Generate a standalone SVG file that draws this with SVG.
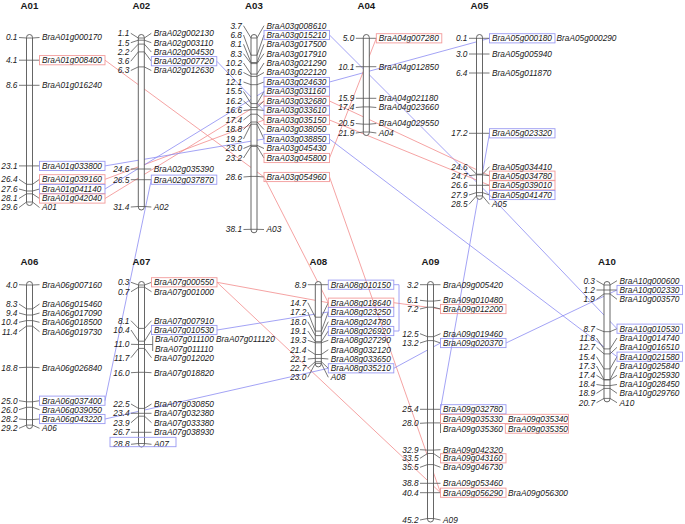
<svg xmlns="http://www.w3.org/2000/svg" width="685" height="524" viewBox="0 0 685 524">
<style>
text{font-family:"Liberation Sans",Arial,sans-serif;fill:#1a1a1a}
.t{font-size:9.7px;font-weight:bold;text-anchor:middle}
.n{font-size:8.3px;font-style:italic;text-anchor:end}
.g{font-size:8.3px;font-style:italic}
.bar{fill:#fff;stroke:#555;stroke-width:0.9}
polyline.k,line.k{fill:none;stroke:#555;stroke-width:0.8}
.rb{fill:none;stroke:#f29a9a;stroke-width:0.9}
.bb{fill:none;stroke:#9a9af2;stroke-width:0.9}
#links line.r,#links polyline.r{stroke:#f28c8c;stroke-width:0.8;fill:none}
#links line.b,#links polyline.b{stroke:#8c8cf2;stroke-width:0.8;fill:none}
</style>
<rect width="685" height="524" fill="#fff"/>

<g id="links">
<line class="r" x1="105" y1="60.2" x2="264" y2="177"/>
<line class="r" x1="105" y1="179.3" x2="264" y2="120"/>
<line class="r" x1="105" y1="198.5" x2="264" y2="101"/>
<line class="b" x1="105" y1="165.9" x2="264" y2="139"/>
<line class="b" x1="105" y1="189" x2="264" y2="91.5"/>
<line class="b" x1="216.8" y1="61.2" x2="264" y2="110.5"/>
<line class="b" x1="329.5" y1="35" x2="489.5" y2="195"/>
<line class="b" x1="329.5" y1="82" x2="489.5" y2="38.3"/>
<line class="r" x1="329.5" y1="101" x2="489.5" y2="175.7"/>
<line class="r" x1="329.5" y1="120" x2="489.5" y2="185.3"/>
<line class="r" x1="376.3" y1="38.3" x2="329.5" y2="158"/>
<line class="b" x1="329.5" y1="139" x2="617" y2="356.7"/>
<line class="b" x1="489.5" y1="195" x2="617" y2="328.7"/>
<line class="b" x1="489.5" y1="133.3" x2="440.5" y2="409.3"/>
<line class="b" x1="151.3" y1="179.7" x2="105" y2="400.7"/>
<line class="r" x1="217" y1="282.3" x2="328.3" y2="302.7"/>
<line class="r" x1="393.8" y1="302.7" x2="440.5" y2="309"/>
<line class="r" x1="217" y1="282.3" x2="440.5" y2="492.7"/>
<line class="r" x1="264" y1="177" x2="328.3" y2="302.7"/>
<line class="r" x1="329.5" y1="177" x2="440.5" y2="492.7"/>
<line class="b" x1="217" y1="330" x2="328.3" y2="312"/>
<line class="b" x1="105" y1="419" x2="328.3" y2="368.3"/>
<line class="b" x1="393.8" y1="368.3" x2="440.5" y2="343"/>
<line class="b" x1="506" y1="343" x2="617" y2="290"/>
<polyline class="b" points="393.8,284.7 399,284.7 399,331 393.8,331"/>
</g>

<g id="A01">
<text class="t" x="29.5" y="8.6">A01</text>
<rect class="bar" x="26.5" y="34.5" width="6" height="171" rx="3"/>
<text class="n" x="17.5" y="40.4">0.1</text><polyline class="k" points="19,37.5 26.5,38 32.5,38 39.5,37.5"/><text class="g" x="42" y="40.4">BraA01g000170</text>
<text class="n" x="17.5" y="63.1">4.1</text><polyline class="k" points="19,60.2 39.5,60.2"/><text class="g" x="42" y="63.1">BraA01g008400</text><rect class="rb" x="39.5" y="55.6" width="65.5" height="9.2"/>
<text class="n" x="17.5" y="88.2">8.6</text><polyline class="k" points="19,85.3 39.5,85.3"/><text class="g" x="42" y="88.2">BraA01g016240</text>
<text class="n" x="17.5" y="168.8">23.1</text><polyline class="k" points="19,165.9 39.5,165.9"/><text class="g" x="42" y="168.8">BraA01g033800</text><rect class="bb" x="39.5" y="161.3" width="65.5" height="9.2"/>
<text class="n" x="17.5" y="182.2">26.4</text><polyline class="k" points="19,179.3 26.5,184.3 32.5,184.3 39.5,179.3"/><text class="g" x="42" y="182.2">BraA01g039160</text><rect class="rb" x="39.5" y="174.7" width="65.5" height="9.2"/>
<text class="n" x="17.5" y="191.9">27.6</text><polyline class="k" points="19,189 26.5,191 32.5,191 39.5,189"/><text class="g" x="42" y="191.9">BraA01g041140</text><rect class="bb" x="39.5" y="184.4" width="65.5" height="9.2"/>
<text class="n" x="17.5" y="201.4">28.1</text><polyline class="k" points="19,198.5 26.5,193.8 32.5,193.8 39.5,198.5"/><text class="g" x="42" y="201.4">BraA01g042040</text><rect class="rb" x="39.5" y="193.9" width="65.5" height="9.2"/>
<text class="n" x="17.5" y="210.4">29.6</text><polyline class="k" points="19,207.5 26.5,202 32.5,202 39.5,207.5"/><text class="g" x="42" y="210.4">A01</text>
</g>

<g id="A02">
<text class="t" x="141.3" y="8.6">A02</text>
<rect class="bar" x="138.3" y="34.5" width="6" height="175.5" rx="3"/>
<text class="n" x="129.3" y="36.2">1.1</text><polyline class="k" points="130.8,33.3 138.3,38 144.3,38 151.3,33.3"/><text class="g" x="153.8" y="36.2">BraA02g002130</text>
<text class="n" x="129.3" y="45.6">1.5</text><polyline class="k" points="130.8,42.7 138.3,40.2 144.3,40.2 151.3,42.7"/><text class="g" x="153.8" y="45.6">BraA02g003110</text>
<text class="n" x="129.3" y="54.9">2.2</text><polyline class="k" points="130.8,52 138.3,44.1 144.3,44.1 151.3,52"/><text class="g" x="153.8" y="54.9">BraA02g004530</text>
<text class="n" x="129.3" y="64.1">3.6</text><polyline class="k" points="130.8,61.2 138.3,51.9 144.3,51.9 151.3,61.2"/><text class="g" x="153.8" y="64.1">BraA02g007720</text><rect class="bb" x="151.3" y="56.6" width="65.5" height="9.2"/>
<text class="n" x="129.3" y="73.4">6.3</text><polyline class="k" points="130.8,70.5 138.3,66.9 144.3,66.9 151.3,70.5"/><text class="g" x="153.8" y="73.4">BraA02g012630</text>
<text class="n" x="129.3" y="171.9">24.6</text><polyline class="k" points="130.8,169 151.3,169"/><text class="g" x="153.8" y="171.9">BraA02g035390</text>
<text class="n" x="129.3" y="182.6">26.5</text><polyline class="k" points="130.8,179.7 151.3,179.7"/><text class="g" x="153.8" y="182.6">BraA02g037870</text><rect class="bb" x="151.3" y="175.1" width="65.5" height="9.2"/>
<text class="n" x="129.3" y="209.9">31.4</text><polyline class="k" points="130.8,207 138.3,206.5 144.3,206.5 151.3,207"/><text class="g" x="153.8" y="209.9">A02</text>
</g>

<g id="A03">
<text class="t" x="254" y="8.6">A03</text>
<rect class="bar" x="251" y="34.5" width="6" height="198.3" rx="3"/>
<text class="n" x="242" y="28.6">3.7</text><polyline class="k" points="243.5,25.7 251,38 257,38 264,25.7"/><text class="g" x="266.5" y="28.6">BraA03g008610</text>
<text class="n" x="242" y="37.9">6.8</text><polyline class="k" points="243.5,35 251,55.2 257,55.2 264,35"/><text class="g" x="266.5" y="37.9">BraA03g015210</text><rect class="bb" x="264" y="30.4" width="65.5" height="9.2"/>
<text class="n" x="242" y="47.2">8.1</text><polyline class="k" points="243.5,44.3 251,62.5 257,62.5 264,44.3"/><text class="g" x="266.5" y="47.2">BraA03g017500</text>
<text class="n" x="242" y="56.6">8.3</text><polyline class="k" points="243.5,53.7 251,63.6 257,63.6 264,53.7"/><text class="g" x="266.5" y="56.6">BraA03g017910</text>
<text class="n" x="242" y="65.9">10.2</text><polyline class="k" points="243.5,63 251,74.1 257,74.1 264,63"/><text class="g" x="266.5" y="65.9">BraA03g021290</text>
<text class="n" x="242" y="75.4">10.6</text><polyline class="k" points="243.5,72.5 251,76.4 257,76.4 264,72.5"/><text class="g" x="266.5" y="75.4">BraA03g022120</text>
<text class="n" x="242" y="84.9">12.1</text><polyline class="k" points="243.5,82 251,84.7 257,84.7 264,82"/><text class="g" x="266.5" y="84.9">BraA03g024630</text><rect class="bb" x="264" y="77.4" width="65.5" height="9.2"/>
<text class="n" x="242" y="94.4">15.5</text><polyline class="k" points="243.5,91.5 251,103.6 257,103.6 264,91.5"/><text class="g" x="266.5" y="94.4">BraA03g031160</text><rect class="bb" x="264" y="86.9" width="65.5" height="9.2"/>
<text class="n" x="242" y="103.9">16.2</text><polyline class="k" points="243.5,101 251,107.5 257,107.5 264,101"/><text class="g" x="266.5" y="103.9">BraA03g032680</text><rect class="rb" x="264" y="96.4" width="65.5" height="9.2"/>
<text class="n" x="242" y="113.4">16.6</text><polyline class="k" points="243.5,110.5 251,109.7 257,109.7 264,110.5"/><text class="g" x="266.5" y="113.4">BraA03g033610</text><rect class="bb" x="264" y="105.9" width="65.5" height="9.2"/>
<text class="n" x="242" y="122.9">17.4</text><polyline class="k" points="243.5,120 251,114.2 257,114.2 264,120"/><text class="g" x="266.5" y="122.9">BraA03g035150</text><rect class="rb" x="264" y="115.4" width="65.5" height="9.2"/>
<text class="n" x="242" y="132.4">18.8</text><polyline class="k" points="243.5,129.5 251,122 257,122 264,129.5"/><text class="g" x="266.5" y="132.4">BraA03g038050</text>
<text class="n" x="242" y="141.9">19.2</text><polyline class="k" points="243.5,139 251,124.2 257,124.2 264,139"/><text class="g" x="266.5" y="141.9">BraA03g038850</text><rect class="bb" x="264" y="134.4" width="65.5" height="9.2"/>
<text class="n" x="242" y="151.4">23.0</text><polyline class="k" points="243.5,148.5 251,145.3 257,145.3 264,148.5"/><text class="g" x="266.5" y="151.4">BraA03g045430</text>
<text class="n" x="242" y="160.9">23.2</text><polyline class="k" points="243.5,158 251,146.4 257,146.4 264,158"/><text class="g" x="266.5" y="160.9">BraA03g045800</text><rect class="rb" x="264" y="153.4" width="65.5" height="9.2"/>
<text class="n" x="242" y="179.9">28.6</text><polyline class="k" points="243.5,177 251,176.4 257,176.4 264,177"/><text class="g" x="266.5" y="179.9">BraA03g054960</text><rect class="rb" x="264" y="172.4" width="65.5" height="9.2"/>
<text class="n" x="242" y="232.4">38.1</text><polyline class="k" points="243.5,229.5 251,229.3 257,229.3 264,229.5"/><text class="g" x="266.5" y="232.4">A03</text>
</g>

<g id="A04">
<text class="t" x="366.3" y="8.6">A04</text>
<rect class="bar" x="363.3" y="34.5" width="6" height="101" rx="3"/>
<text class="n" x="354.3" y="41.2">5.0</text><polyline class="k" points="355.8,38.3 376.3,38.3"/><text class="g" x="378.8" y="41.2">BraA04g007280</text><rect class="rb" x="376.3" y="33.7" width="65.5" height="9.2"/>
<text class="n" x="354.3" y="69.6">10.1</text><polyline class="k" points="355.8,66.7 376.3,66.7"/><text class="g" x="378.8" y="69.6">BraA04g012850</text>
<text class="n" x="354.3" y="101.2">15.9</text><polyline class="k" points="355.8,98.3 376.3,98.3"/><text class="g" x="378.8" y="101.2">BraA04g021180</text>
<text class="n" x="354.3" y="110.4">17.4</text><polyline class="k" points="355.8,107.5 363.3,106.9 369.3,106.9 376.3,107.5"/><text class="g" x="378.8" y="110.4">BraA04g023660</text>
<text class="n" x="354.3" y="126.4">20.5</text><polyline class="k" points="355.8,123.5 363.3,124.2 369.3,124.2 376.3,123.5"/><text class="g" x="378.8" y="126.4">BraA04g029550</text>
<text class="n" x="354.3" y="135.9">21.9</text><polyline class="k" points="355.8,133 363.3,132 369.3,132 376.3,133"/><text class="g" x="378.8" y="135.9">A04</text>
</g>

<g id="A05">
<text class="t" x="479.5" y="8.6">A05</text>
<rect class="bar" x="476.5" y="34.5" width="6" height="164.9" rx="3"/>
<text class="n" x="467.5" y="41.2">0.1</text><polyline class="k" points="469,38.3 489.5,38.3"/><text class="g" x="492" y="41.2">BraA05g000180</text><rect class="bb" x="489.5" y="33.7" width="65.5" height="9.2"/><text class="g" x="556.5" y="41.2">BraA05g000290</text>
<text class="n" x="467.5" y="56.9">3.0</text><polyline class="k" points="469,54 489.5,54"/><text class="g" x="492" y="56.9">BraA05g005940</text>
<text class="n" x="467.5" y="75.9">6.4</text><polyline class="k" points="469,73 489.5,73"/><text class="g" x="492" y="75.9">BraA05g011870</text>
<text class="n" x="467.5" y="136.2">17.2</text><polyline class="k" points="469,133.3 489.5,133.3"/><text class="g" x="492" y="136.2">BraA05g023320</text><rect class="bb" x="489.5" y="128.7" width="65.5" height="9.2"/>
<text class="n" x="467.5" y="169.6">24.6</text><polyline class="k" points="469,166.7 476.5,174.2 482.5,174.2 489.5,166.7"/><text class="g" x="492" y="169.6">BraA05g034410</text>
<text class="n" x="467.5" y="178.6">24.7</text><polyline class="k" points="469,175.7 476.5,174.8 482.5,174.8 489.5,175.7"/><text class="g" x="492" y="178.6">BraA05g034780</text><rect class="rb" x="489.5" y="171.1" width="65.5" height="9.2"/>
<text class="n" x="467.5" y="188.2">26.6</text><polyline class="k" points="469,185.3 489.5,185.3"/><text class="g" x="492" y="188.2">BraA05g039010</text><rect class="rb" x="489.5" y="180.7" width="65.5" height="9.2"/>
<text class="n" x="467.5" y="197.9">27.9</text><polyline class="k" points="469,195 476.5,192.6 482.5,192.6 489.5,195"/><text class="g" x="492" y="197.9">BraA05g041470</text><rect class="bb" x="489.5" y="190.4" width="65.5" height="9.2"/>
<text class="n" x="467.5" y="207.2">28.5</text><polyline class="k" points="469,204.3 476.5,195.9 482.5,195.9 489.5,204.3"/><text class="g" x="492" y="207.2">A05</text>
</g>

<g id="A06">
<text class="t" x="29.5" y="265">A06</text>
<rect class="bar" x="26.5" y="281.5" width="6" height="147.1" rx="3"/>
<text class="n" x="17.5" y="287.6">4.0</text><polyline class="k" points="19,284.7 26.5,285 32.5,285 39.5,284.7"/><text class="g" x="42" y="287.6">BraA06g007160</text>
<text class="n" x="17.5" y="306.9">8.3</text><polyline class="k" points="19,304 26.5,308.9 32.5,308.9 39.5,304"/><text class="g" x="42" y="306.9">BraA06g015460</text>
<text class="n" x="17.5" y="315.9">9.4</text><polyline class="k" points="19,313 26.5,315 32.5,315 39.5,313"/><text class="g" x="42" y="315.9">BraA06g017090</text>
<text class="n" x="17.5" y="325.2">10.4</text><polyline class="k" points="19,322.3 26.5,320.6 32.5,320.6 39.5,322.3"/><text class="g" x="42" y="325.2">BraA06g018500</text>
<text class="n" x="17.5" y="334.6">11.4</text><polyline class="k" points="19,331.7 26.5,326.1 32.5,326.1 39.5,331.7"/><text class="g" x="42" y="334.6">BraA06g019730</text>
<text class="n" x="17.5" y="370.6">18.8</text><polyline class="k" points="19,367.7 26.5,367.3 32.5,367.3 39.5,367.7"/><text class="g" x="42" y="370.6">BraA06g026840</text>
<text class="n" x="17.5" y="403.6">25.0</text><polyline class="k" points="19,400.7 26.5,401.8 32.5,401.8 39.5,400.7"/><text class="g" x="42" y="403.6">BraA06g037400</text><rect class="bb" x="39.5" y="396.1" width="65.5" height="9.2"/>
<text class="n" x="17.5" y="412.6">26.0</text><polyline class="k" points="19,409.7 26.5,407.3 32.5,407.3 39.5,409.7"/><text class="g" x="42" y="412.6">BraA06g039050</text>
<text class="n" x="17.5" y="421.9">28.2</text><polyline class="k" points="19,419 26.5,419.6 32.5,419.6 39.5,419"/><text class="g" x="42" y="421.9">BraA06g043220</text><rect class="bb" x="39.5" y="414.4" width="65.5" height="9.2"/>
<text class="n" x="17.5" y="431.2">29.2</text><polyline class="k" points="19,428.3 26.5,425.1 32.5,425.1 39.5,428.3"/><text class="g" x="42" y="431.2">A06</text>
</g>

<g id="A07">
<text class="t" x="141.5" y="265">A07</text>
<rect class="bar" x="138.5" y="281.5" width="6" height="165.5" rx="3"/>
<text class="n" x="129.5" y="285.2">0.3</text><polyline class="k" points="131,282.3 138.5,285 144.5,285 151.5,282.3"/><text class="g" x="154" y="285.2">BraA07g000550</text><rect class="rb" x="151.5" y="277.7" width="65.5" height="9.2"/>
<text class="n" x="129.5" y="294.6">0.7</text><polyline class="k" points="131,291.7 138.5,287.2 144.5,287.2 151.5,291.7"/><text class="g" x="154" y="294.6">BraA07g001000</text>
<text class="n" x="129.5" y="323.6">8.1</text><polyline class="k" points="131,320.7 138.5,328.4 144.5,328.4 151.5,320.7"/><text class="g" x="154" y="323.6">BraA07g007910</text>
<text class="n" x="129.5" y="332.9">10.4</text><polyline class="k" points="131,330 138.5,341.2 144.5,341.2 151.5,330"/><text class="g" x="154" y="332.9">BraA07g010530</text><rect class="bb" x="151.5" y="325.4" width="65.5" height="9.2"/>
<text class="n" x="129.5" y="347.2">11.0</text><polyline class="k" points="131,344.3 138.5,344.5 144.5,344.5 152.7,344.5"/><line class="k" x1="152.7" y1="336" x2="152.7" y2="351"/><text class="g" x="155" y="342.2">BraA07g011100 BraA07g011120</text><text class="g" x="155" y="351.6">BraA07g011110</text>
<text class="n" x="129.5" y="360.6">11.7</text><polyline class="k" points="131,357.7 138.5,348.4 144.5,348.4 151.5,357.7"/><text class="g" x="154" y="360.6">BraA07g012020</text>
<text class="n" x="129.5" y="375.6">16.0</text><polyline class="k" points="131,372.7 138.5,372.3 144.5,372.3 151.5,372.7"/><text class="g" x="154" y="375.6">BraA07g018820</text>
<text class="n" x="129.5" y="406.9">22.5</text><polyline class="k" points="131,404 138.5,408.4 144.5,408.4 151.5,404"/><text class="g" x="154" y="406.9">BraA07g030850</text>
<text class="n" x="129.5" y="416.2">23.4</text><polyline class="k" points="131,413.3 151.5,413.3"/><text class="g" x="154" y="416.2">BraA07g032380</text>
<text class="n" x="129.5" y="425.6">23.9</text><polyline class="k" points="131,422.7 138.5,416.2 144.5,416.2 151.5,422.7"/><text class="g" x="154" y="425.6">BraA07g033380</text>
<text class="n" x="129.5" y="435.2">26.7</text><polyline class="k" points="131,432.3 151.5,432.3"/><text class="g" x="154" y="435.2">BraA07g038930</text>
<text class="n" x="129.5" y="447.2">28.8</text><polyline class="k" points="131,444.3 138.5,443.5 144.5,443.5 151.5,444.3"/><text class="g" x="154" y="447.2">A07</text><rect class="bb" x="110" y="437.3" width="66" height="9.4"/>
</g>

<g id="A08">
<text class="t" x="318.3" y="265">A08</text>
<rect class="bar" x="315.3" y="281.5" width="6" height="85.4" rx="3"/>
<text class="n" x="306.3" y="287.6">8.9</text><polyline class="k" points="307.8,284.7 328.3,284.7"/><text class="g" x="330.8" y="287.6">BraA08g010150</text><rect class="bb" x="328.3" y="280.1" width="65.5" height="9.2"/>
<text class="n" x="306.3" y="305.6">14.7</text><polyline class="k" points="307.8,302.7 315.3,317.2 321.3,317.2 328.3,302.7"/><text class="g" x="330.8" y="305.6">BraA08g018640</text><rect class="rb" x="328.3" y="298.1" width="65.5" height="9.2"/>
<text class="n" x="306.3" y="314.9">17.2</text><polyline class="k" points="307.8,312 315.3,331.1 321.3,331.1 328.3,312"/><text class="g" x="330.8" y="314.9">BraA08g023250</text><rect class="bb" x="328.3" y="307.4" width="65.5" height="9.2"/>
<text class="n" x="306.3" y="324.6">18.0</text><polyline class="k" points="307.8,321.7 315.3,335.6 321.3,335.6 328.3,321.7"/><text class="g" x="330.8" y="324.6">BraA08g024780</text>
<text class="n" x="306.3" y="333.9">19.1</text><polyline class="k" points="307.8,331 315.3,341.7 321.3,341.7 328.3,331"/><text class="g" x="330.8" y="333.9">BraA08g026920</text><rect class="bb" x="328.3" y="326.4" width="65.5" height="9.2"/>
<text class="n" x="306.3" y="343.2">19.3</text><polyline class="k" points="307.8,340.3 315.3,342.8 321.3,342.8 328.3,340.3"/><text class="g" x="330.8" y="343.2">BraA08g027290</text>
<text class="n" x="306.3" y="352.6">21.4</text><polyline class="k" points="307.8,349.7 315.3,354.5 321.3,354.5 328.3,349.7"/><text class="g" x="330.8" y="352.6">BraA08g032120</text>
<text class="n" x="306.3" y="361.9">22.1</text><polyline class="k" points="307.8,359 315.3,358.4 321.3,358.4 328.3,359"/><text class="g" x="330.8" y="361.9">BraA08g033650</text>
<text class="n" x="306.3" y="371.2">22.7</text><polyline class="k" points="307.8,368.3 315.3,361.7 321.3,361.7 328.3,368.3"/><text class="g" x="330.8" y="371.2">BraA08g035210</text><rect class="bb" x="328.3" y="363.7" width="65.5" height="9.2"/>
<text class="n" x="306.3" y="380.2">23.0</text><polyline class="k" points="307.8,377.3 315.3,363.4 321.3,363.4 328.3,377.3"/><text class="g" x="330.8" y="380.2">A08</text>
</g>

<g id="A09">
<text class="t" x="430.5" y="265">A09</text>
<rect class="bar" x="427.5" y="281.5" width="6" height="240.5" rx="3"/>
<text class="n" x="418.5" y="287.6">3.2</text><polyline class="k" points="420,284.7 440.5,284.7"/><text class="g" x="443" y="287.6">BraA09g005420</text>
<text class="n" x="418.5" y="303.2">6.1</text><polyline class="k" points="420,300.3 427.5,301.1 433.5,301.1 440.5,300.3"/><text class="g" x="443" y="303.2">BraA09g010480</text>
<text class="n" x="418.5" y="311.9">7.2</text><polyline class="k" points="420,309 427.5,307.2 433.5,307.2 440.5,309"/><text class="g" x="443" y="311.9">BraA09g012200</text><rect class="rb" x="440.5" y="304.4" width="65.5" height="9.2"/>
<text class="n" x="418.5" y="336.6">12.5</text><polyline class="k" points="420,333.7 427.5,336.7 433.5,336.7 440.5,333.7"/><text class="g" x="443" y="336.6">BraA09g019460</text>
<text class="n" x="418.5" y="345.9">13.2</text><polyline class="k" points="420,343 427.5,340.6 433.5,340.6 440.5,343"/><text class="g" x="443" y="345.9">BraA09g020370</text><rect class="bb" x="440.5" y="338.4" width="65.5" height="9.2"/>
<text class="n" x="418.5" y="412.2">25.4</text><polyline class="k" points="420,409.3 440.5,409.3"/><text class="g" x="443" y="412.2">BraA09g032780</text><rect class="bb" x="440.5" y="404.7" width="65.5" height="9.2"/>
<text class="n" x="418.5" y="426.2">28.0</text><polyline class="k" points="420,423.3 427.5,422.9 433.5,422.9 440.5,422.9"/><line class="k" x1="440.5" y1="414.5" x2="440.5" y2="433"/><text class="g" x="443" y="421.6">BraA09g035330</text><text class="g" x="508" y="421.6">BraA09g035340</text><rect class="rb" x="440.5" y="414.3" width="128" height="9.2"/><text class="g" x="443" y="431.6">BraA09g035360</text><text class="g" x="508" y="431.6">BraA09g035350</text><rect class="rb" x="505.3" y="424" width="63.2" height="9.2"/>
<text class="n" x="418.5" y="452.6">32.9</text><polyline class="k" points="420,449.7 427.5,450.1 433.5,450.1 440.5,449.7"/><text class="g" x="443" y="452.6">BraA09g042320</text>
<text class="n" x="418.5" y="461.2">33.5</text><polyline class="k" points="420,458.3 427.5,453.5 433.5,453.5 440.5,458.3"/><text class="g" x="443" y="461.2">BraA09g043160</text><rect class="rb" x="440.5" y="453.7" width="65.5" height="9.2"/>
<text class="n" x="418.5" y="470.2">35.5</text><polyline class="k" points="420,467.3 427.5,464.6 433.5,464.6 440.5,467.3"/><text class="g" x="443" y="470.2">BraA09g046730</text>
<text class="n" x="418.5" y="486.2">38.8</text><polyline class="k" points="420,483.3 440.5,483.3"/><text class="g" x="443" y="486.2">BraA09g053460</text>
<text class="n" x="418.5" y="495.6">40.4</text><polyline class="k" points="420,492.7 440.5,492.7"/><text class="g" x="443" y="495.6">BraA09g056290</text><rect class="rb" x="440.5" y="488.1" width="65.5" height="9.2"/><text class="g" x="508" y="495.6">BraA09g056300</text>
<text class="n" x="418.5" y="522.9">45.2</text><polyline class="k" points="420,520 427.5,518.5 433.5,518.5 440.5,520"/><text class="g" x="443" y="522.9">A09</text>
</g>

<g id="A10">
<text class="t" x="607" y="265">A10</text>
<rect class="bar" x="604" y="281.5" width="6" height="120.4" rx="3"/>
<text class="n" x="595" y="283.6">0.3</text><polyline class="k" points="596.5,280.7 604,285 610,285 617,280.7"/><text class="g" x="619.5" y="283.6">BraA10g000600</text>
<text class="n" x="595" y="292.9">1.2</text><polyline class="k" points="596.5,290 617,290"/><text class="g" x="619.5" y="292.9">BraA10g002330</text><rect class="bb" x="617" y="285.4" width="65.5" height="9.2"/>
<text class="n" x="595" y="302.2">1.9</text><polyline class="k" points="596.5,299.3 604,293.9 610,293.9 617,299.3"/><text class="g" x="619.5" y="302.2">BraA10g003570</text>
<text class="n" x="595" y="331.6">8.7</text><polyline class="k" points="596.5,328.7 604,331.7 610,331.7 617,328.7"/><text class="g" x="619.5" y="331.6">BraA10g010530</text><rect class="bb" x="617" y="324.1" width="65.5" height="9.2"/>
<text class="n" x="595" y="340.9">11.8</text><polyline class="k" points="596.5,338 604,348.9 610,348.9 617,338"/><text class="g" x="619.5" y="340.9">BraA10g014740</text>
<text class="n" x="595" y="350.2">12.7</text><polyline class="k" points="596.5,347.3 604,353.9 610,353.9 617,347.3"/><text class="g" x="619.5" y="350.2">BraA10g016510</text>
<text class="n" x="595" y="359.6">15.4</text><polyline class="k" points="596.5,356.7 604,368.9 610,368.9 617,356.7"/><text class="g" x="619.5" y="359.6">BraA10g021580</text><rect class="bb" x="617" y="352.1" width="65.5" height="9.2"/>
<text class="n" x="595" y="368.9">17.3</text><polyline class="k" points="596.5,366 604,379.5 610,379.5 617,366"/><text class="g" x="619.5" y="368.9">BraA10g025840</text>
<text class="n" x="595" y="378.2">17.4</text><polyline class="k" points="596.5,375.3 604,380 610,380 617,375.3"/><text class="g" x="619.5" y="378.2">BraA10g025930</text>
<text class="n" x="595" y="387.4">18.4</text><polyline class="k" points="596.5,384.5 604,385.6 610,385.6 617,384.5"/><text class="g" x="619.5" y="387.4">BraA10g028450</text>
<text class="n" x="595" y="396.2">18.9</text><polyline class="k" points="596.5,393.3 604,388.4 610,388.4 617,393.3"/><text class="g" x="619.5" y="396.2">BraA10g029760</text>
<text class="n" x="595" y="405.6">20.7</text><polyline class="k" points="596.5,402.7 604,398.4 610,398.4 617,402.7"/><text class="g" x="619.5" y="405.6">A10</text>
</g>
</svg>
